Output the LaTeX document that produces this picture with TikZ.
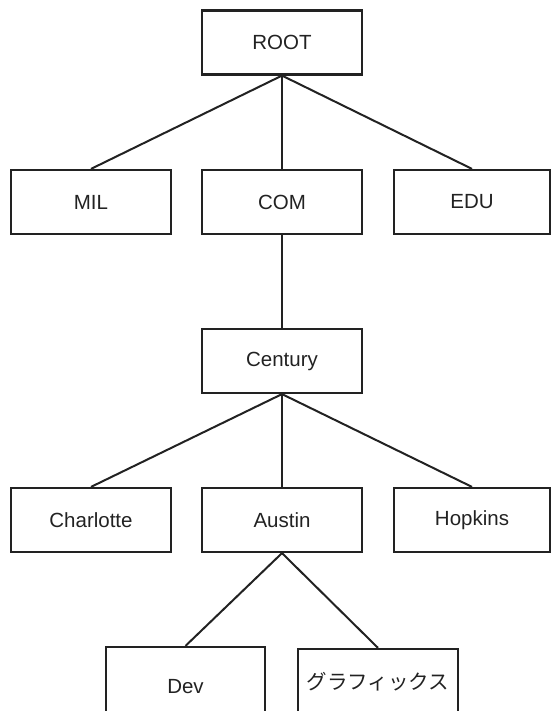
\documentclass[tikz,border=0pt]{standalone}
\usepackage{fontspec}
\setmainfont{Liberation Sans}
\newfontfamily\cjk{Noto Sans CJK JP}
\definecolor{ink}{HTML}{222222}
\begin{document}
\begin{tikzpicture}[x=1pt,y=-1pt,
  box/.style={draw=ink, line width=2.2pt, minimum width=160pt, minimum height=64pt,
    inner sep=0pt, font=\fontsize{20.5}{24}\selectfont, text=ink},
  link/.style={draw=ink, line width=2pt}]
\useasboundingbox (0,0) rectangle (551,711);
\begin{scope}
\clip (0,0) rectangle (551,711);
% tree levels
\node[box] (root) at (282,42.5) {ROOT};
\node[box] (mil) at (91,202) {MIL};
\node[box] (com) at (282,202) {COM};
\node[box, minimum width=156pt] (edu) at (472,202) {EDU};
\node[box] (century) at (282,361) {Century};
\node[box] (charlotte) at (91,520) {Charlotte};
\node[box] (austin) at (282,520) {Austin};
\node[box, minimum width=156pt] (hopkins) at (472,520) {Hopkins};
\node[box, minimum width=159pt, minimum height=80pt] (dev) at (185.5,687) {Dev};
\node[box, minimum height=66pt, font=\cjk\fontsize{20.5}{24}\selectfont] (gfx) at (378,682) {グラフィックス};
% connectors
\draw[link] (root.south) -- (mil.north);
\draw[link] (root.south) -- (com.north);
\draw[link] (root.south) -- (edu.north);
\draw[link] (com.south) -- (century.north);
\draw[link] (century.south) -- (charlotte.north);
\draw[link] (century.south) -- (austin.north);
\draw[link] (century.south) -- (hopkins.north);
\draw[link] (austin.south) -- (dev.north);
\draw[link] (austin.south) -- (gfx.north);
\end{scope}
\end{tikzpicture}
\end{document}
